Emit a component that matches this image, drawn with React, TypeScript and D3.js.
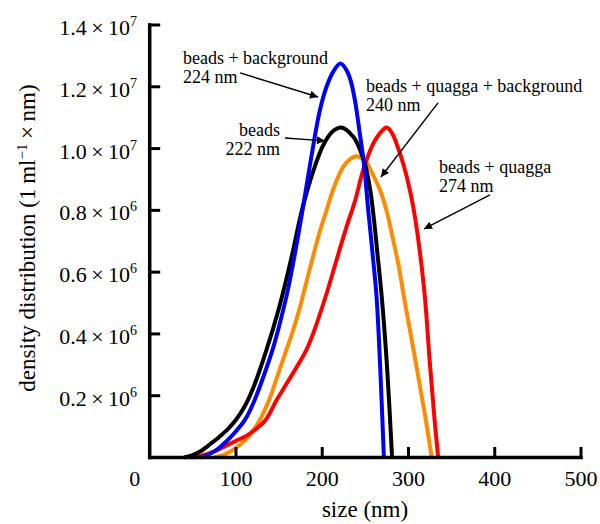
import React, { useRef, useEffect } from 'react';
import * as d3 from 'd3';

// [size (nm), density (x 10^6 per ml per nm)]
const beads = [[40, 0], [50, 0.08], [60, 0.22], [70, 0.43], [80, 0.65], [90, 0.9], [100, 1.22], [110, 1.65], [120, 2.25], [135, 3.45], [150, 4.85], [165, 6.55], [176, 7.95], [190, 9.3], [201, 10.1], [212, 10.55], [222, 10.68], [236, 10.38], [244, 9.95], [250, 9.45], [256, 8.6], [260, 7.7], [264, 6.6], [269, 5.2], [275, 3.0], [281, 0]];
const beadsBackground = [[58, 0], [70, 0.12], [80, 0.3], [90, 0.55], [100, 0.85], [110, 1.2], [120, 1.75], [131, 2.55], [142, 3.45], [150, 4.25], [160, 5.4], [170, 6.85], [178, 8.15], [186, 9.5], [197, 11.2], [205, 12.0], [213, 12.5], [221, 12.75], [228, 12.55], [233, 12.2], [238, 11.55], [243, 10.6], [247.5, 9.7], [250, 9.05], [253, 8.1], [255, 7.55], [258, 6.7], [263, 5.2], [267, 3.05], [271.5, 0]];
const beadsQuaggaBackground = [[75, 0], [85, 0.08], [95, 0.22], [105, 0.42], [115, 0.7], [125, 1.08], [139, 1.9], [147, 2.55], [158, 3.45], [166, 4.1], [174, 4.85], [186, 6.15], [197, 7.3], [205, 8.0], [213, 8.7], [224, 9.4], [232, 9.65], [240, 9.75], [251, 9.55], [258, 9.2], [267, 8.66], [275, 7.95], [281, 7.2], [288, 6.3], [296, 5.0], [309, 3.0], [319, 1.4], [327, 0]];
const beadsQuagga = [[48, 0], [60, 0.06], [75, 0.2], [90, 0.4], [101, 0.55], [112, 0.7], [122, 0.9], [134, 1.2], [147, 1.85], [160, 2.45], [172, 3.0], [182, 3.5], [190, 4.05], [205, 5.3], [216.7, 6.4], [228, 7.45], [238, 8.3], [247.5, 9.3], [259, 10.15], [267, 10.5], [274.6, 10.68], [281, 10.5], [286, 10.17], [294, 9.5], [301.6, 8.66], [307.4, 7.8], [313, 6.7], [319, 5.2], [324.8, 3.05], [330, 1.3], [334.4, 0]];

const xTicks = [100, 200, 300, 400, 500];
const yTicks = [2, 4, 6, 8, 10, 12, 14];
const yTickMantissa = ['0.2', '0.4', '0.6', '0.8', '1.0', '1.2', '1.4'];
const yTickExponent = ['6', '6', '6', '6', '7', '7', '7'];

// annotations: label lines, label anchor and arrow (data coords)
const notes = [
  { lines: ['beads + background', '224 nm'], at: [38.6, 12.74], anchor: 'start', from: [104.7, 12.45], to: [195.1, 11.67] },
  { lines: ['beads', '222 nm'], at: [151.1, 10.41], anchor: 'end', from: [156.8, 10.34], to: [203.2, 10.25] },
  { lines: ['beads + quagga + background', '240 nm'], at: [250.8, 11.84], anchor: 'start', from: [334.2, 11.48], to: [268.1, 9.08] },
  { lines: ['beads + quagga', '274 nm'], at: [335.4, 9.21], anchor: 'start', from: [394.5, 8.5], to: [318, 7.4] },
];

const series = [
  { data: beadsQuaggaBackground, color: '#ff8c00' },
  { data: beadsQuagga, color: '#ff0000' },
  { data: beads, color: '#000000' },
  { data: beadsBackground, color: '#0000f5' },
];

const App = () => {
  const svgRef = useRef(null);

  useEffect(() => {
    const width = 600;
    const height = 524;
    const font = 'Liberation Serif, Tinos, Times New Roman, DejaVu Serif, serif';

    const svg = d3.select(svgRef.current);
    svg.selectAll('*').remove();
    svg.attr('width', width).attr('height', height).attr('font-family', font);

    const x = d3.scaleLinear().domain([0, 500]).range([149.7, 581]);
    const y = d3.scaleLinear().domain([0, 14]).range([457.5, 25]);

    svg.append('defs').append('marker')
      .attr('id', 'arrow')
      .attr('viewBox', '0 0 10 10')
      .attr('refX', 10)
      .attr('refY', 5)
      .attr('markerWidth', 11)
      .attr('markerHeight', 8)
      .attr('markerUnits', 'userSpaceOnUse')
      .attr('orient', 'auto')
      .append('path')
      .attr('d', 'M0,0 L10,5 L0,10 z')
      .attr('fill', '#000');

    // curves
    const line = d3.line()
      .x(d => x(d[0]))
      .y(d => y(Math.max(0, d[1])))
      .curve(d3.curveCatmullRom.alpha(0.5));

    svg.selectAll('path.curve')
      .data(series)
      .join('path')
      .attr('class', 'curve')
      .attr('d', d => line(d.data))
      .attr('fill', 'none')
      .attr('stroke', d => d.color)
      .attr('stroke-width', 4)
      .attr('stroke-linejoin', 'round');

    // axes
    const axis = svg.append('g').attr('stroke', '#000').attr('stroke-linecap', 'square');
    axis.append('line')
      .attr('x1', x(0)).attr('x2', x(500))
      .attr('y1', y(0)).attr('y2', y(0))
      .attr('stroke-width', 3.5);
    axis.append('line')
      .attr('x1', x(0)).attr('x2', x(0))
      .attr('y1', y(0)).attr('y2', y(14))
      .attr('stroke-width', 3.5);
    axis.selectAll('line.xt')
      .data(xTicks)
      .join('line')
      .attr('class', 'xt')
      .attr('x1', d => x(d)).attr('x2', d => x(d))
      .attr('y1', y(0)).attr('y2', y(0) - 9)
      .attr('stroke-width', 3);
    axis.selectAll('line.yt')
      .data(yTicks)
      .join('line')
      .attr('class', 'yt')
      .attr('x1', x(0)).attr('x2', x(0) + 9)
      .attr('y1', d => y(d)).attr('y2', d => y(d))
      .attr('stroke-width', 3);

    // tick labels
    svg.selectAll('text.xl')
      .data(xTicks)
      .join('text')
      .attr('class', 'xl')
      .attr('x', d => x(d))
      .attr('y', 486)
      .attr('text-anchor', 'middle')
      .attr('font-size', 22)
      .text(d => d);

    svg.append('text')
      .attr('x', x(0) - 15)
      .attr('y', 486)
      .attr('text-anchor', 'middle')
      .attr('font-size', 22)
      .text('0');

    const yl = svg.selectAll('text.yl')
      .data(yTicks)
      .join('text')
      .attr('class', 'yl')
      .attr('x', 137)
      .attr('y', d => y(d) + 10)
      .attr('text-anchor', 'end')
      .attr('font-size', 22);
    yl.append('tspan').text((d, i) => `${yTickMantissa[i]}\u2009×\u200910`);
    yl.append('tspan')
      .attr('dy', -9)
      .attr('font-size', 14)
      .text((d, i) => yTickExponent[i]);

    // axis titles
    svg.append('text')
      .attr('x', 365)
      .attr('y', 517)
      .attr('text-anchor', 'middle')
      .attr('font-size', 23)
      .text('size (nm)');

    const yt = svg.append('text')
      .attr('transform', `translate(35,238) rotate(-90)`)
      .attr('text-anchor', 'middle')
      .attr('font-size', 23);
    yt.append('tspan').text('density distribution (1\u2009ml');
    yt.append('tspan').attr('dy', -8).attr('font-size', 15).text('\u22121');
    yt.append('tspan').attr('dy', 8).text('\u2009×\u2009nm)');

    // annotations
    const ann = svg.append('g');
    notes.forEach(n => {
      const t = ann.append('text')
        .attr('text-anchor', n.anchor)
        .attr('font-size', 18);
      n.lines.forEach((l, i) => {
        t.append('tspan')
          .attr('x', x(n.at[0]))
          .attr('y', y(n.at[1]) + i * 19)
          .text(l);
      });
      ann.append('line')
        .attr('x1', x(n.from[0])).attr('y1', y(n.from[1]))
        .attr('x2', x(n.to[0])).attr('y2', y(n.to[1]))
        .attr('stroke', '#000')
        .attr('stroke-width', 1.4)
        .attr('marker-end', 'url(#arrow)');
    });
  }, []);

  return (
    <svg ref={svgRef} style={{ position: 'absolute', left: 0, top: 0, background: '#fff' }} />
  );
};

export default App;
